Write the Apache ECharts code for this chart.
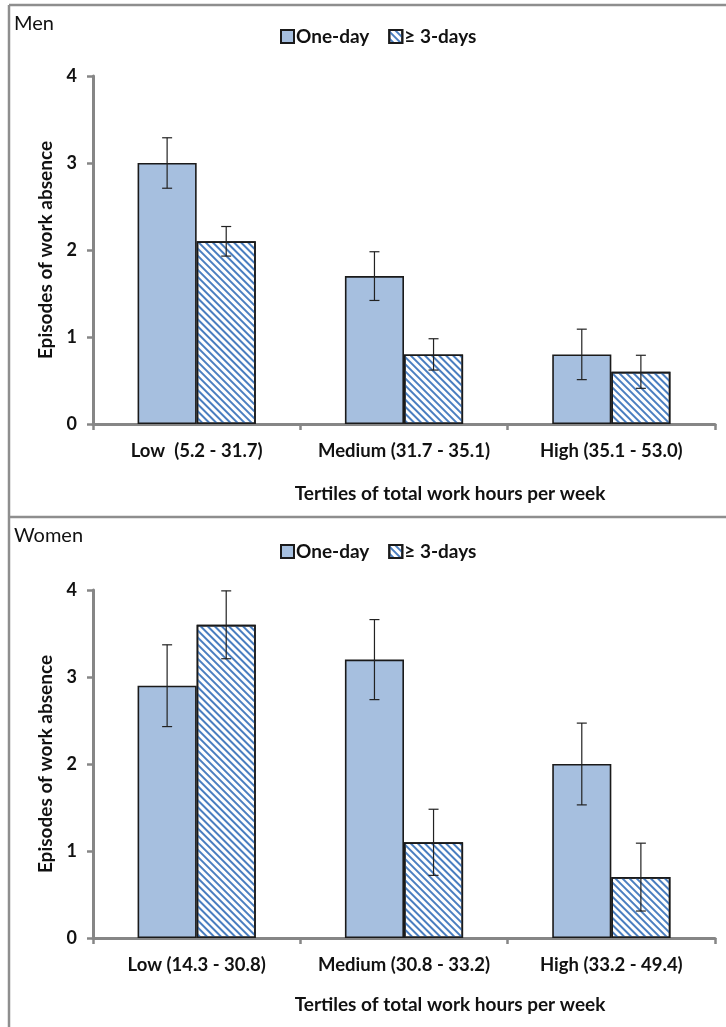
<!DOCTYPE html>
<html>
<head>
<meta charset="utf-8">
<script src="https://cdn.jsdelivr.net/npm/echarts@6/dist/echarts.min.js"></script>
<style>
html,body{margin:0;padding:0;background:#fff;}
#chart{width:726px;height:1027px;}
</style>
</head>
<body>
<div id="chart"></div>
<script>
// ---- data ----
var seriesNames = ['One-day', '\u2265 3-days'];
var categoriesMen = ['Low  (5.2 - 31.7)', 'Medium (31.7 - 35.1)', 'High (35.1 - 53.0)'];
var categoriesWomen = ['Low (14.3 - 30.8)', 'Medium (30.8 - 33.2)', 'High (33.2 - 49.4)'];
var menOneDay = [3.0, 1.7, 0.8];
var menOneDayErr = [0.29, 0.28, 0.29];
var menThreeDays = [2.1, 0.8, 0.6];
var menThreeDaysErr = [0.17, 0.18, 0.19];
var womenOneDay = [2.9, 3.2, 2.0];
var womenOneDayErr = [0.47, 0.46, 0.47];
var womenThreeDays = [3.6, 1.1, 0.7];
var womenThreeDaysErr = [0.39, 0.38, 0.39];
var yTicks = [0, 1, 2, 3, 4];
var panelTitles = ['Men', 'Women'];
var xAxisTitle = 'Tertiles of total work hours per week';
var yAxisTitle = 'Episodes of work absence';

// ---- styles ----
var FONT = 'Lato';
var TXT = '#111';
var AXIS_GRAY = '#868686';
var BORDER_GRAY = '#8e8e8e';
var BAR_FILL = '#a6bfdf';
var HATCH_BLUE = '#4a7ec0';
var BAR_BORDER = '#1a1a1a';
var BAR_WIDTH_FRAC = 0.285;

var chart = echarts.init(document.getElementById('chart'), null, {renderer: 'canvas'});

function errorSeries(values, errs, gridIdx, side) {
  var data = values.map(function (v, i) { return [i, v - errs[i], v + errs[i]]; });
  return {
    type: 'custom',
    xAxisIndex: gridIdx, yAxisIndex: gridIdx,
    z: 10, silent: true,
    data: data,
    renderItem: function (params, api) {
      var idx = api.value(0);
      var lo = api.coord([idx, api.value(1)]);
      var hi = api.coord([idx, api.value(2)]);
      var band = api.size([1, 0])[0];
      var off = side * band * BAR_WIDTH_FRAC / 2;
      var x = lo[0] + off;
      var cap = 5;
      var st = {stroke: '#222', lineWidth: 1.2};
      return {
        type: 'group',
        children: [
          {type: 'line', shape: {x1: x, y1: lo[1], x2: x, y2: hi[1]}, style: st},
          {type: 'line', shape: {x1: x - cap, y1: lo[1], x2: x + cap, y2: lo[1]}, style: st},
          {type: 'line', shape: {x1: x - cap, y1: hi[1], x2: x + cap, y2: hi[1]}, style: st}
        ]
      };
    }
  };
}

var hatchDecal = {
  symbol: 'rect',
  symbolSize: 1,
  dashArrayX: [1, 0],
  dashArrayY: [2, 2.4],
  rotation: Math.PI / 4,
  color: HATCH_BLUE
};

function barSeries(name, values, gridIdx, hatched) {
  return {
    type: 'bar',
    name: name,
    xAxisIndex: gridIdx, yAxisIndex: gridIdx,
    data: values,
    barWidth: (BAR_WIDTH_FRAC * 100) + '%',
    barGap: '0%',
    itemStyle: hatched ? {
      color: '#ffffff', borderColor: BAR_BORDER, borderWidth: 1.6, decal: hatchDecal
    } : {
      color: BAR_FILL, borderColor: BAR_BORDER, borderWidth: 1.6
    },
    emphasis: {disabled: true}
  };
}

function xAxisCfg(cats, gridIdx) {
  return {
    type: 'category', gridIndex: gridIdx, data: cats,
    axisLine: {show: true, lineStyle: {color: AXIS_GRAY, width: 3}},
    axisTick: {show: true, length: 6, lineStyle: {color: AXIS_GRAY, width: 2.5}},
    axisLabel: {interval: 0, hideOverlap: false, margin: 18, color: TXT, fontFamily: FONT, fontWeight: 'bold', fontSize: 18.5}
  };
}
function yAxisCfg(gridIdx) {
  return {
    type: 'value', gridIndex: gridIdx, min: yTicks[0], max: yTicks[yTicks.length - 1], interval: 1,
    name: yAxisTitle, nameLocation: 'middle', nameGap: 33,
    nameTextStyle: {color: TXT, fontFamily: FONT, fontWeight: 'bold', fontSize: 19},
    axisLine: {show: true, lineStyle: {color: AXIS_GRAY, width: 3}},
    axisTick: {show: true, length: 6, lineStyle: {color: AXIS_GRAY, width: 2.5}},
    axisLabel: {margin: 16, color: TXT, fontFamily: FONT, fontWeight: 'bold', fontSize: 18},
    splitLine: {show: false}
  };
}
function legendCfg(top) {
  return {
    data: seriesNames, left: 280, top: top, padding: 0, itemWidth: 13, itemHeight: 13, itemGap: 19,
    icon: 'rect', selectedMode: false,
    textStyle: {color: TXT, fontFamily: FONT, fontWeight: 'bold', fontSize: 19, padding: [0, 0, 0, -3]}
  };
}
function titleStyle(size, weight) {
  return {fontFamily: FONT, fontWeight: weight, fontSize: size, color: TXT};
}

var option = {
  animation: false,
  backgroundColor: '#fff',
  title: [
    {text: panelTitles[0], left: 14, top: 14, padding: 0, textStyle: titleStyle(20, 'normal')},
    {text: panelTitles[1], left: 14, top: 526, padding: 0, textStyle: titleStyle(20, 'normal')},
    {text: xAxisTitle, left: 450, top: 484, padding: 0, textAlign: 'center', textStyle: titleStyle(19, 'bold')},
    {text: xAxisTitle, left: 450, top: 995, padding: 0, textAlign: 'center', textStyle: titleStyle(19, 'bold')}
  ],
  legend: [legendCfg(27), legendCfg(542)],
  grid: [
    {left: 93, top: 76, width: 622, height: 348},
    {left: 93, top: 590, width: 622, height: 348}
  ],
  xAxis: [xAxisCfg(categoriesMen, 0), xAxisCfg(categoriesWomen, 1)],
  yAxis: [yAxisCfg(0), yAxisCfg(1)],
  series: [
    barSeries(seriesNames[0], menOneDay, 0, false),
    barSeries(seriesNames[1], menThreeDays, 0, true),
    barSeries(seriesNames[0], womenOneDay, 1, false),
    barSeries(seriesNames[1], womenThreeDays, 1, true),
    errorSeries(menOneDay, menOneDayErr, 0, -1),
    errorSeries(menThreeDays, menThreeDaysErr, 0, 1),
    errorSeries(womenOneDay, womenOneDayErr, 1, -1),
    errorSeries(womenThreeDays, womenThreeDaysErr, 1, 1)
  ],
  graphic: [
    {type: 'line', shape: {x1: 9, y1: 5, x2: 9, y2: 1027}, style: {stroke: BORDER_GRAY, lineWidth: 2.5}, silent: true},
    {type: 'line', shape: {x1: 9, y1: 5, x2: 726, y2: 5}, style: {stroke: BORDER_GRAY, lineWidth: 2.5}, silent: true},
    {type: 'line', shape: {x1: 9, y1: 517, x2: 726, y2: 517}, style: {stroke: BORDER_GRAY, lineWidth: 2.5}, silent: true}
  ]
};
chart.setOption(option);
</script>
</body>
</html>
